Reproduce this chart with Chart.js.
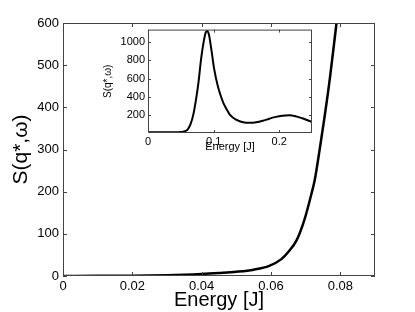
<!DOCTYPE html>
<html>
<head>
<meta charset="utf-8">
<script src="https://cdn.jsdelivr.net/npm/chart.js@4"></script>
<style>
  html, body { margin: 0; padding: 0; background: #fff; }
  #wrap { position: relative; width: 415px; height: 312px; }
  #principal { position: absolute; left: 0; top: 0; }
  #inset { position: absolute; left: 90px; top: 20px; }
</style>
</head>
<body>
<div id="wrap">
  <canvas id="principal" width="415" height="312"></canvas>
  <canvas id="inset" width="230" height="134"></canvas>
</div>
<script>
// Curva principal: S(q*,w) vs energia
const energiaPrincipal = [0, 0.01, 0.02, 0.03, 0.035, 0.04, 0.045, 0.05, 0.055, 0.0595, 0.063, 0.0651, 0.0674, 0.0697, 0.0717, 0.0726, 0.074, 0.0755, 0.077, 0.0789];
const valoresPrincipal = [0, 0.3, 0.8, 1.8, 2.8, 4.5, 7, 10, 15, 24, 40, 58, 85, 135, 196, 227, 298, 380, 470, 600];
const ticksXPrincipal = [0, 0.02, 0.04, 0.06, 0.08];
const ticksYPrincipal = [0, 100, 200, 300, 400, 500, 600];

// Curva del recuadro (inset)
const energiaInset = [0, 0.04, 0.05, 0.055, 0.06, 0.065, 0.069, 0.073, 0.077, 0.081, 0.085, 0.088, 0.0905, 0.093, 0.097, 0.101, 0.106, 0.11, 0.115, 0.12, 0.125, 0.135, 0.145, 0.155, 0.165, 0.175, 0.185, 0.195, 0.205, 0.215, 0.225, 0.235, 0.245, 0.25];
const valoresInset = [8, 8, 10, 18, 35, 100, 200, 360, 560, 820, 1010, 1110, 1125, 1080, 900, 700, 530, 430, 330, 260, 200, 145, 118, 112, 118, 135, 158, 178, 190, 195, 185, 162, 135, 122];
const ticksXInset = [0, 0.1, 0.2];
const ticksYInset = [200, 400, 600, 800, 1000];

const FUENTE = "'Liberation Sans', Arial, sans-serif";

// Marco y marcas hacia adentro, estilo Matlab
function pluginMarco(largo) {
    return {
        id: 'marco',
        afterDraw(chart) {
            const { ctx, chartArea: a, scales } = chart;
            ctx.save();
            ctx.strokeStyle = '#444';
            ctx.lineWidth = 1;
            ctx.strokeRect(a.left + 0.5, a.top + 0.5, a.right - a.left - 1, a.bottom - a.top - 1);
            ctx.beginPath();
            scales.x.ticks.forEach(t => {
                const px = Math.round(scales.x.getPixelForValue(t.value)) + 0.5;
                ctx.moveTo(px, a.bottom); ctx.lineTo(px, a.bottom - largo);
                ctx.moveTo(px, a.top); ctx.lineTo(px, a.top + largo);
            });
            scales.y.ticks.forEach(t => {
                const py = Math.round(scales.y.getPixelForValue(t.value)) + 0.5;
                ctx.moveTo(a.left, py); ctx.lineTo(a.left + largo, py);
                ctx.moveTo(a.right, py); ctx.lineTo(a.right - largo, py);
            });
            ctx.stroke();
            ctx.restore();
        }
    };
}

function crearGrafico(canvasId, cfg) {
    const datos = cfg.x.map((x, i) => ({ x: x, y: cfg.y[i] }));
    return new Chart(document.getElementById(canvasId).getContext('2d'), {
        type: 'line',
        data: {
            datasets: [{
                data: datos,
                borderColor: '#000',
                borderWidth: cfg.grosor,
                pointRadius: 0,
                cubicInterpolationMode: 'monotone',
                fill: false
            }]
        },
        options: {
            responsive: false,
            animation: false,
            events: [],
            layout: { padding: cfg.padding },
            plugins: { legend: { display: false }, tooltip: { enabled: false } },
            scales: {
                x: {
                    type: 'linear',
                    min: cfg.xMin, max: cfg.xMax,
                    afterBuildTicks: s => { s.ticks = cfg.ticksX.map(v => ({ value: v })); },
                    afterFit: s => { s.height = cfg.altoX; },
                    grid: { display: false, drawTicks: false },
                    border: { display: false },
                    ticks: {
                        color: '#000', padding: cfg.padX, maxRotation: 0,
                        font: { family: FUENTE, size: cfg.tamTick },
                        callback: v => String(v)
                    },
                    title: {
                        display: true, text: 'Energy [J]', color: '#000',
                        padding: cfg.padTituloX,
                        font: { family: FUENTE, size: cfg.tamTitulo }
                    }
                },
                y: {
                    type: 'linear',
                    min: cfg.yMin, max: cfg.yMax,
                    afterBuildTicks: s => { s.ticks = cfg.ticksY.map(v => ({ value: v })); },
                    afterFit: s => { s.width = cfg.anchoY; },
                    grid: { display: false, drawTicks: false },
                    border: { display: false },
                    ticks: {
                        color: '#000', padding: cfg.padY,
                        font: { family: FUENTE, size: cfg.tamTick },
                        callback: v => String(v)
                    },
                    title: {
                        display: true, text: 'S(q*,ω)', color: '#000',
                        padding: cfg.padTituloY,
                        font: { family: FUENTE, size: cfg.tamTituloY }
                    }
                }
            }
        },
        plugins: [pluginMarco(cfg.largoMarca)]
    });
}

window.graficoPrincipal = crearGrafico('principal', {
    x: energiaPrincipal, y: valoresPrincipal,
    ticksX: ticksXPrincipal, ticksY: ticksYPrincipal,
    xMin: 0, xMax: 0.09, yMin: 0, yMax: 600,
    grosor: 2.5, tamTick: 13, tamTitulo: 20, tamTituloY: 21,
    padding: { left: 0, top: 23, right: 40, bottom: 0 },
    anchoY: 63, altoX: 36, padX: 3, padY: 4,
    padTituloX: { top: -2, bottom: 0 }, padTituloY: { top: 9, bottom: 0 },
    largoMarca: 4
});

window.graficoInset = crearGrafico('inset', {
    x: energiaInset, y: valoresInset,
    ticksX: ticksXInset, ticksY: ticksYInset,
    xMin: 0, xMax: 0.25, yMin: 0, yMax: 1140,
    grosor: 2, tamTick: 11, tamTitulo: 11, tamTituloY: 10,
    padding: { left: 0, top: 8, right: 8, bottom: 0 },
    anchoY: 58, altoX: 21, padX: 2, padY: 3,
    padTituloX: { top: -3, bottom: 0 }, padTituloY: { top: 12, bottom: 0 },
    largoMarca: 3
});
</script>
</body>
</html>
